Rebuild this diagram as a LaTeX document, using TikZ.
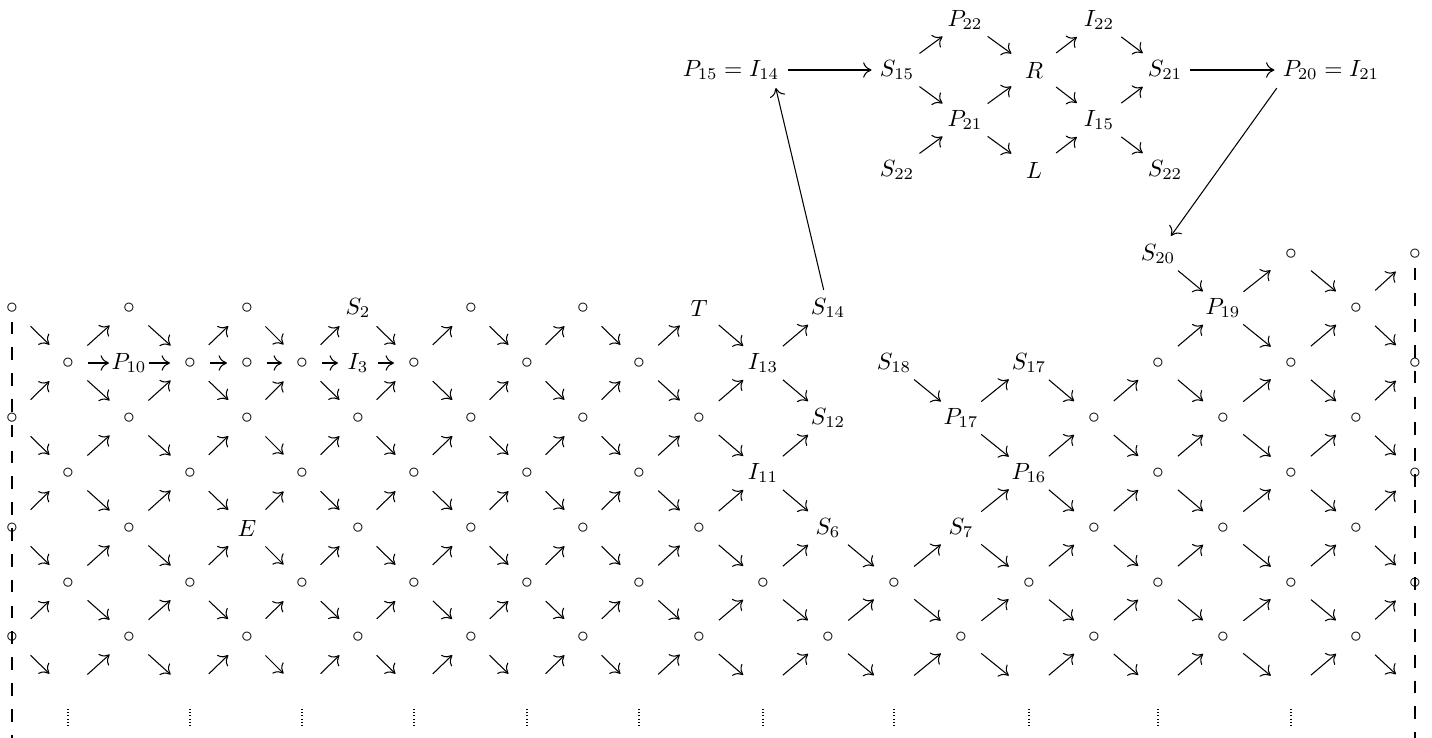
\documentclass[tikz,border=0pt]{standalone}
\usetikzlibrary{arrows.meta}
\tikzset{
  tip/.tip={Computer Modern Rightarrow[length=3.6pt,width=6.6pt]},
  arr/.style={-tip, line width=0.45pt, shorten <=11.1pt, shorten >=11.1pt},
  harr/.style={arr, shorten <=8.5pt, shorten >=8.5pt},
  tarr/.style={arr, shorten <=11.9pt, shorten >=11.9pt},
  larr/.style={-tip, line width=0.45pt},
  edgeline/.style={line width=0.5pt, dash pattern=on 5.4pt off 5.6pt},
  vdot/.style={line width=0.5pt, dash pattern=on 0.45pt off 0.9pt},
  lbl/.style={inner sep=3.33pt},
}
\begin{document}
\begin{tikzpicture}[x=0.426pt,y=-0.426pt]
\useasboundingbox (0,0) rectangle (1432,738);
\def\colx{{12,68,129,190,247,302,358,414,471,527,583,639,699,763,828,894,961,1029,1094,1158,1223,1291,1356,1415}}
\def\rowy{{254,308,363,418,473,528,583,637,692}}
% labelled and circle nodes of the upper rows
\foreach \k/\R/\t in {
  19/0/{S_{20}}, 21/0/\circ, 23/0/\circ,
  0/1/\circ, 2/1/\circ, 4/1/\circ, 6/1/{S_2}, 8/1/\circ, 10/1/\circ, 12/1/T, 14/1/{S_{14}}, 20/1/{P_{19}}, 22/1/\circ,
  1/2/\circ, 2/2/{P_{10}}, 3/2/\circ, 4/2/\circ, 5/2/\circ, 6/2/{I_3}, 7/2/\circ, 9/2/\circ, 11/2/\circ, 13/2/{I_{13}}, 15/2/{S_{18}}, 17/2/{S_{17}}, 19/2/\circ, 21/2/\circ, 23/2/\circ,
  0/3/\circ, 2/3/\circ, 4/3/\circ, 6/3/\circ, 8/3/\circ, 10/3/\circ, 12/3/\circ, 14/3/{S_{12}}, 16/3/{P_{17}}, 18/3/\circ, 20/3/\circ, 22/3/\circ,
  1/4/\circ, 3/4/\circ, 5/4/\circ, 7/4/\circ, 9/4/\circ, 11/4/\circ, 13/4/{I_{11}}, 17/4/{P_{16}}, 19/4/\circ, 21/4/\circ, 23/4/\circ,
  0/5/\circ, 2/5/\circ, 4/5/E, 6/5/\circ, 8/5/\circ, 10/5/\circ, 12/5/\circ, 14/5/{S_6}, 16/5/{S_7}, 18/5/\circ, 20/5/\circ, 22/5/\circ}{
  \pgfmathsetmacro\xx{\colx[\k]}
  \pgfmathsetmacro\yy{\rowy[\R]}
  \node[lbl] (g-\k-\R) at (\xx,\yy) {$\t$};
}
% full lower rows
\foreach \k in {1,3,...,23}{
  \pgfmathsetmacro\xx{\colx[\k]}
  \node[lbl] (g-\k-6) at (\xx,583) {$\circ$};
  \coordinate (g-\k-8) at (\xx,692);
}
\foreach \k in {0,2,...,22}{
  \pgfmathsetmacro\xx{\colx[\k]}
  \node[lbl] (g-\k-7) at (\xx,637) {$\circ$};
}
% diagonal arrows, band between row R and R+1
\foreach \R/\ks in {
  0/{19,20,21,22},
  1/{0,1,2,3,4,5,6,7,8,9,10,11,12,13,19,20,21,22},
  2/{0,1,2,3,4,5,6,7,8,9,10,11,12,13,15,16,17,18,19,20,21,22},
  3/{0,1,2,3,4,5,6,7,8,9,10,11,12,13,16,17,18,19,20,21,22},
  4/{0,1,2,3,4,5,6,7,8,9,10,11,12,13,16,17,18,19,20,21,22},
  5/{0,1,2,3,4,5,6,7,8,9,10,11,12,13,14,15,16,17,18,19,20,21,22},
  6/{0,1,2,3,4,5,6,7,8,9,10,11,12,13,14,15,16,17,18,19,20,21,22},
  7/{0,1,2,3,4,5,6,7,8,9,10,11,12,13,14,15,16,17,18,19,20,21,22}}{
  \foreach \k in \ks {
    \pgfmathtruncatemacro\kk{\k+1}
    \pgfmathtruncatemacro\RR{\R+1}
    \pgfmathtruncatemacro\pp{mod(\k+\R,2)}
    \ifnum\pp=1
      \draw[arr] (g-\k-\R.center) -- (g-\kk-\RR.center);
    \else
      \draw[arr] (g-\k-\RR.center) -- (g-\kk-\R.center);
    \fi
  }
}
% horizontal arrows in row 1
\foreach \k in {1,...,6}{
  \pgfmathtruncatemacro\kk{\k+1}
  \draw[harr] (g-\k-2.center) -- (g-\kk-2.center);
}
% dashed borders
\coordinate (lb) at (12,738);
\coordinate (rb) at (1415,738);
\draw[edgeline] (g-0-1) -- (lb);
\draw[edgeline] (g-23-0) -- (rb);
% vertical dots
\foreach \k in {1,3,...,21}{
  \pgfmathsetmacro\xx{\colx[\k]}
  \draw[vdot] (\xx,709) -- (\xx,728);
}
% top part
\node[lbl] (P15) at (731,70) {$P_{15} = I_{14}$};
\node[lbl] (S15) at (897,70) {$S_{15}$};
\node[lbl] (P22) at (965,20) {$P_{22}$};
\node[lbl] (P21) at (965,120) {$P_{21}$};
\node[lbl] (S22a) at (897,170) {$S_{22}$};
\node[lbl] (R) at (1034,70) {$R$};
\node[lbl] (L) at (1034,170) {$L$};
\node[lbl] (I22) at (1099,20) {$I_{22}$};
\node[lbl] (I15) at (1099,120) {$I_{15}$};
\node[lbl] (S21) at (1165,70) {$S_{21}$};
\node[lbl] (S22b) at (1165,170) {$S_{22}$};
\node[lbl] (P20) at (1331,70) {$P_{20} = I_{21}$};
\draw[tarr] (S15.center) -- (P22.center);
\draw[tarr] (S15.center) -- (P21.center);
\draw[tarr] (S22a.center) -- (P21.center);
\draw[tarr] (P22.center) -- (R.center);
\draw[tarr] (P21.center) -- (R.center);
\draw[tarr] (P21.center) -- (L.center);
\draw[tarr] (R.center) -- (I22.center);
\draw[tarr] (R.center) -- (I15.center);
\draw[tarr] (L.center) -- (I15.center);
\draw[tarr] (I22.center) -- (S21.center);
\draw[tarr] (I15.center) -- (S21.center);
\draw[tarr] (I15.center) -- (S22b.center);
\draw[larr] (P15) -- (S15);
\draw[larr] (S21) -- (P20);
\draw[larr] (g-14-1) -- ([xshift=-5pt]P15.south east);
\draw[larr] ([xshift=1pt]P20.south west) -- (g-19-0);
\end{tikzpicture}
\end{document}
